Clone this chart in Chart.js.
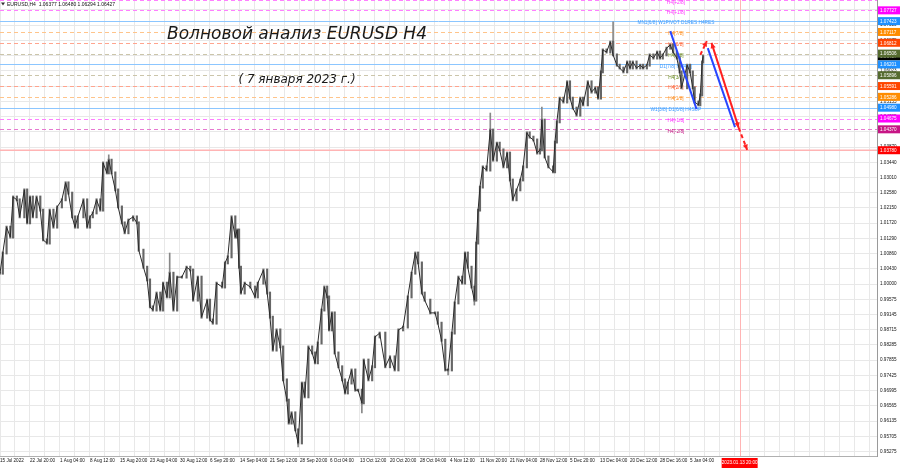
<!DOCTYPE html>
<html>
<head>
<meta charset="utf-8">
<script src="https://cdn.jsdelivr.net/npm/chart.js@4.4.0/dist/chart.umd.min.js"></script>
<style>
    html, body { margin: 0; padding: 0; background: #fff; }
    #wrap { width: 900px; height: 468px; }
</style>
</head>
<body>
<div id="wrap"><canvas id="canvas" width="900" height="468"></canvas></div>
<script>
// H4 bar number (from 15 Jul 2022) and close price
var barIdx = [
    0, 3, 7, 11, 14, 18, 21, 26, 29, 32,
    35, 39, 43, 46, 50, 53, 57, 61, 66, 70,
    73, 77, 80, 83, 89, 93, 96, 99, 103, 107,
    110, 114, 116, 119, 123, 126, 130, 133, 137, 142,
    146, 148, 153, 157, 160, 163, 167, 171, 174, 178,
    181, 185, 189, 194, 199, 203, 206, 211, 215, 221,
    224, 227, 231, 237, 240, 243, 247, 251, 253, 255,
    257, 261, 267, 272, 275, 281, 285, 288, 291, 295,
    299, 302, 306, 308, 311, 315, 318, 322, 325, 329,
    333, 336, 339, 343, 346, 349, 351, 354, 357, 361,
    365, 368, 371, 375, 379, 382, 386, 388, 393, 397,
    400, 405, 411, 416, 421, 425, 430, 435, 439, 443,
    446, 450, 453, 459, 464, 467, 471, 475, 478, 482,
    485, 489, 493, 496, 499, 503, 506, 508, 510, 512,
    515, 519, 523, 526, 530, 533, 537, 541, 544, 547,
    551, 555, 558, 562, 565, 569, 573, 576, 578, 581,
    585, 590, 592, 594, 597, 601, 605, 608, 611, 615,
    619, 622, 627, 631, 635, 638, 641, 643, 647, 651,
    654, 658, 661, 665, 669, 672, 675, 679, 683, 686,
    690, 693, 697, 701, 704, 707, 711, 715, 718, 722,
    725, 727, 733, 736, 739, 741, 745, 747, 749, 750
];
var closes = [
    1.0031, 1.0088, 1.0161, 1.0133, 1.0246, 1.0238, 1.0190, 1.0266, 1.0173, 1.0246,
    1.0190, 1.0246, 1.0209, 1.0125, 1.0116, 1.0209, 1.0161, 1.0218, 1.0238, 1.0286,
    1.0257, 1.0190, 1.0161, 1.0190, 1.0238, 1.0161, 1.0190, 1.0201, 1.0238, 1.0209,
    1.0342, 1.0314, 1.0350, 1.0314, 1.0266, 1.0218, 1.0173, 1.0145, 1.0181, 1.0190,
    1.0173, 1.0096, 1.0048, 1.0012, 0.9936, 0.9927, 0.9975, 0.9927, 1.0003, 0.9964,
    1.0031, 0.9927, 1.0020, 1.0020, 1.0048, 1.0040, 0.9955, 1.0020, 0.9907, 0.9955,
    0.9899, 0.9890, 1.0003, 0.9992, 1.0060, 1.0077, 1.0190, 1.0133, 1.0153, 1.0048,
    0.9975, 1.0003, 0.9992, 0.9964, 1.0003, 1.0040, 0.9975, 0.9907, 0.9814, 0.9871,
    0.9823, 0.9730, 0.9673, 0.9608, 0.9637, 0.9589, 0.9552, 0.9721, 0.9682, 0.9823,
    0.9806, 0.9778, 0.9834, 0.9927, 0.9992, 0.9964, 0.9871, 0.9919, 0.9806, 0.9767,
    0.9730, 0.9693, 0.9721, 0.9758, 0.9701, 0.9701, 0.9665, 0.9786, 0.9730, 0.9767,
    0.9851, 0.9862, 0.9767, 0.9795, 0.9758, 0.9871, 0.9879, 0.9964, 1.0031, 1.0088,
    1.0060, 0.9975, 0.9955, 0.9919, 0.9919, 0.9890, 0.9842, 0.9758, 0.9758, 0.9862,
    0.9947, 1.0020, 1.0003, 1.0088, 1.0048, 0.9992, 0.9955, 1.0116, 1.0209, 1.0274,
    1.0331, 1.0322, 1.0435, 1.0350, 1.0398, 1.0379, 1.0331, 1.0370, 1.0294, 1.0238,
    1.0266, 1.0294, 1.0331, 1.0427, 1.0415, 1.0407, 1.0370, 1.0379, 1.0463, 1.0359,
    1.0331, 1.0317, 1.0401, 1.0458, 1.0525, 1.0514, 1.0571, 1.0525, 1.0497, 1.0477,
    1.0525, 1.0506, 1.0571, 1.0542, 1.0554, 1.0525, 1.0599, 1.0661, 1.0655, 1.0683,
    1.0647, 1.0618, 1.0610, 1.0599, 1.0627, 1.0610, 1.0627, 1.0610, 1.0618, 1.0610,
    1.0618, 1.0647, 1.0638, 1.0655, 1.0638, 1.0647, 1.0666, 1.0675, 1.0655, 1.0638,
    1.0599, 1.0554, 1.0618, 1.0599, 1.0554, 1.0514, 1.0506, 1.0534, 1.0627, 1.0643
];
// long wicks
var wickHighBars = [116, 181, 523, 578, 654];
var wickHighs = [1.0365, 1.0088, 1.0483, 1.0500, 1.0740];
var wickLowBars = [318, 386, 478, 506];
var wickLows = [0.9541, 0.9637, 0.9744, 0.9941];

// hand drawn forecast lines [bar, price]
var blueLine1 = [[715, 1.0714], [743, 1.0494]];
var blueLine2 = [[755, 1.0666], [784, 1.0443]];
var redLine = [[759, 1.0681], [788, 1.0441]];
var redDashUp = [[747, 1.0647], [754, 1.0686]];
var redDashDown = [[788, 1.0441], [797, 1.0379]];

// murrey levels
var levelPrices = [1.08032, 1.07727, 1.07423, 1.07117, 1.06812, 1.06506, 1.06201, 1.05896, 1.05591, 1.05286, 1.04980, 1.04675, 1.04370];
var levelNames = ['H4[+2/8]', 'H4[+1/8]', 'MN1[6/8] W1PIVOT D1RES H4RES', 'H4[7/8]', 'H4[6/8]', 'H4[5/8]', 'D1[7/8] H4[4/8]',
    'H4[3/8]', 'H4[2/8]', 'H4[1/8]', 'W1[3/8] D1[6/8] H4SUP', 'H4[-1/8]', 'H4[-2/8]'];
var redLevel = 1.03780;
var lastPrice = 1.06427;
var markerBar = 789;
var markerLabel = '2023.01.13 20:00';

var priceTicks = [0.95275, 0.95705, 0.96135, 0.96565, 0.96995, 0.97425, 0.97855, 0.98285, 0.98715, 0.99145,
    0.99575, 1.00000, 1.00430, 1.00860, 1.01290, 1.01720, 1.02150, 1.02580, 1.03010, 1.03440,
    1.03870, 1.04300, 1.04735, 1.05155, 1.05590, 1.06023, 1.06450, 1.06875, 1.07310, 1.07740];
var timeLabels = ['15 Jul 2022', '22 Jul 20:00', '1 Aug 04:00', '8 Aug 12:00', '15 Aug 20:00', '23 Aug 04:00',
    '30 Aug 12:00', '6 Sep 20:00', '14 Sep 04:00', '21 Sep 12:00', '28 Sep 20:00', '6 Oct 04:00',
    '13 Oct 12:00', '20 Oct 20:00', '28 Oct 04:00', '4 Nov 12:00', '11 Nov 20:00', '21 Nov 04:00',
    '28 Nov 12:00', '5 Dec 20:00', '13 Dec 04:00', '20 Dec 12:00', '28 Dec 16:00', '5 Jan 04:00'];
var header = 'EURUSD,H4  1.06377 1.06480 1.06294 1.06427';
var title = 'Волновой анализ EURUSD H4';
var subtitle = '( 7 января 2023 г.)';

// styles
var lineColors = ['#ff80ff', '#ff80ff', '#8cc6ff', '#ffc48a', '#ffa48e', '#cbc5aa', '#8cc6ff', '#cbc5aa', '#ffa48e', '#ffc48a', '#8cc6ff', '#ff80ff', '#e67ad0'];
var lineDashed = [1, 1, 0, 1, 1, 1, 0, 1, 1, 1, 0, 1, 1];
var textColors = ['#ff33ff', '#ff33ff', '#3d9bff', '#ff8c1a', '#ff5a2a', '#6b8e23', '#3d9bff', '#6b8e23', '#ff5a2a', '#ff8c1a', '#3d9bff', '#ff33ff', '#c71585'];
var boxColors = ['#ff00ff', '#ff00ff', '#1e90ff', '#ff8c00', '#ff4500', '#556b2f', '#1e90ff', '#556b2f', '#ff4500', '#ff8c00', '#1e90ff', '#ff00ff', '#c71585'];
var labelBar = 721;
var FONT = '"Liberation Sans", Arial, sans-serif';
var wick = 0.0003;

var candleRanges = barIdx.map(function (b, i) {
    var prev = i > 0 ? closes[i - 1] : closes[i];
    return { x: b, y: [Math.min(prev, closes[i]) - wick, Math.max(prev, closes[i]) + wick] };
});
var closePoints = barIdx.map(function (b, i) { return { x: b, y: closes[i] }; });
var highWicks = wickHighBars.map(function (b, i) {
    return { x: b, y: [closes[barIdx.indexOf(b)], wickHighs[i]] };
});
var lowWicks = wickLowBars.map(function (b, i) {
    return { x: b, y: [wickLows[i], closes[barIdx.indexOf(b)]] };
});
function pts(arr) { return arr.map(function (p) { return { x: p[0], y: p[1] }; }); }

var gridBars = [];
for (var g = 0; g <= 928; g += 16) gridBars.push(g);

function arrowHead(ctx, x1, y1, x2, y2, color) {
    var ang = Math.atan2(y2 - y1, x2 - x1), L = 6, W = 0.45;
    ctx.fillStyle = color;
    ctx.beginPath();
    ctx.moveTo(x2, y2);
    ctx.lineTo(x2 - L * Math.cos(ang - W), y2 - L * Math.sin(ang - W));
    ctx.lineTo(x2 - L * Math.cos(ang + W), y2 - L * Math.sin(ang + W));
    ctx.closePath();
    ctx.fill();
}

function priceBox(ctx, area, py, text, color) {
    ctx.fillStyle = color;
    ctx.fillRect(area.right + 1, py - 4, 900 - area.right - 1, 8);
    ctx.fillStyle = '#fff';
    ctx.textAlign = 'left';
    ctx.textBaseline = 'middle';
    ctx.fillText(text, area.right + 3, py + 0.5);
}

var overlay = {
    id: 'overlay',
    beforeDatasetsDraw: function (chart) {
        var ctx = chart.ctx, a = chart.chartArea, x = chart.scales.x, y = chart.scales.y;
        ctx.save();
        ctx.beginPath();
        ctx.rect(a.left, a.top, a.right - a.left, a.bottom - a.top);
        ctx.clip();
        ctx.lineWidth = 1;
        levelPrices.forEach(function (p, i) {
            var py = Math.round(y.getPixelForValue(p)) + 0.5;
            ctx.strokeStyle = lineColors[i];
            ctx.setLineDash(lineDashed[i] ? [4, 3] : []);
            ctx.beginPath(); ctx.moveTo(a.left, py); ctx.lineTo(a.right, py); ctx.stroke();
        });
        ctx.setLineDash([]);
        ctx.strokeStyle = '#ffb4b4';
        ctx.lineWidth = 1.5;
        var ry = y.getPixelForValue(redLevel);
        ctx.beginPath(); ctx.moveTo(a.left, ry); ctx.lineTo(a.right, ry); ctx.stroke();
        var mx = Math.round(x.getPixelForValue(markerBar)) + 0.5;
        ctx.lineWidth = 1;
        ctx.beginPath(); ctx.moveTo(mx, a.top); ctx.lineTo(mx, a.bottom); ctx.stroke();
        ctx.restore();

        // level names
        ctx.save();
        ctx.font = '4.8px ' + FONT;
        ctx.textAlign = 'center';
        ctx.textBaseline = 'middle';
        var lx = x.getPixelForValue(labelBar);
        levelPrices.forEach(function (p, i) {
            ctx.fillStyle = textColors[i];
            ctx.fillText(levelNames[i], lx, Math.max(2.5, y.getPixelForValue(p) + 2));
        });
        ctx.restore();
    },
    afterDatasetsDraw: function (chart) {
        var ctx = chart.ctx;
        ctx.save();
        var ds = chart.data.datasets;
        for (var k = 0; k < ds.length; k++) {
            if (!ds[k].heads) continue;
            var el = chart.getDatasetMeta(k).data;
            ds[k].heads.forEach(function (h) {
                var a = el[h[0]], b = el[h[1]];
                arrowHead(ctx, a.x, a.y, b.x, b.y, ds[k].borderColor);
            });
        }
        ctx.restore();
    },
    afterDraw: function (chart) {
        var ctx = chart.ctx, a = chart.chartArea, x = chart.scales.x, y = chart.scales.y;
        ctx.save();
        ctx.font = '4.6px ' + FONT;
        // current price then level boxes
        priceBox(ctx, a, y.getPixelForValue(lastPrice), lastPrice.toFixed(5), '#000');
        levelPrices.forEach(function (p, i) {
            var py = y.getPixelForValue(p);
            if (py < 3) return;
            priceBox(ctx, a, py, p.toFixed(5), boxColors[i]);
        });
        priceBox(ctx, a, y.getPixelForValue(redLevel), redLevel.toFixed(5), '#ff0000');

        // marker time box
        var mx = x.getPixelForValue(markerBar);
        ctx.fillStyle = '#ff0000';
        ctx.fillRect(mx - 18, a.bottom + 2, 36, 10);
        ctx.fillStyle = '#fff';
        ctx.textAlign = 'center';
        ctx.textBaseline = 'middle';
        ctx.fillText(markerLabel, mx, a.bottom + 7);

        // header
        ctx.fillStyle = '#333';
        ctx.beginPath();
        ctx.moveTo(1, 2.5); ctx.lineTo(5, 2.5); ctx.lineTo(3, 5.5); ctx.closePath(); ctx.fill();
        ctx.fillStyle = '#111';
        ctx.font = '5px ' + FONT;
        ctx.textAlign = 'left';
        ctx.fillText(header, 7, 4.5);

        // title
        ctx.fillStyle = '#1a1a1a';
        ctx.textAlign = 'center';
        ctx.font = 'italic 17px "DejaVu Sans", sans-serif';
        ctx.fillText(title, 297, 35);
        ctx.font = 'italic 12px "DejaVu Sans", sans-serif';
        ctx.fillText(subtitle, 297, 80);
        ctx.restore();
    }
};

var ctx = document.getElementById('canvas');
var myChart = new Chart(ctx, {
    type: 'line',
    data: {
        datasets: [
            { type: 'bar', data: candleRanges, backgroundColor: '#666', barThickness: 1.5, grouped: false, order: 3 },
            { type: 'bar', data: highWicks, backgroundColor: '#888', barThickness: 1, grouped: false, order: 3 },
            { type: 'bar', data: lowWicks, backgroundColor: '#888', barThickness: 1, grouped: false, order: 3 },
            { data: closePoints, borderColor: '#2a2a2a', borderWidth: 1, pointRadius: 0, tension: 0, order: 2 },
            { data: pts(blueLine1), borderColor: '#2846ff', borderWidth: 2, pointRadius: 0, order: 1 },
            { data: pts(blueLine2), borderColor: '#2846ff', borderWidth: 2, pointRadius: 0, order: 1 },
            { data: pts(redLine), borderColor: '#ff2020', borderWidth: 2, pointRadius: 0, order: 1, heads: [[1, 0], [0, 1]] },
            { data: pts(redDashUp), borderColor: '#ff2020', borderWidth: 2, borderDash: [4, 3], pointRadius: 0, order: 1, heads: [[0, 1]] },
            { data: pts(redDashDown), borderColor: '#ff2020', borderWidth: 2, borderDash: [4, 3], pointRadius: 0, order: 1, heads: [[0, 1]] }
        ]
    },
    options: {
        responsive: false,
        animation: false,
        devicePixelRatio: 1,
        layout: { padding: 0, autoPadding: false },
        plugins: { legend: { display: false }, tooltip: { enabled: false } },
        scales: {
            x: {
                type: 'linear', min: 0, max: 935.5, offset: false,
                afterBuildTicks: function (s) { s.ticks = gridBars.map(function (v) { return { value: v }; }); },
                afterFit: function (s) { s.height = 12; s.paddingLeft = 0; s.paddingRight = 0; },
                ticks: {
                    autoSkip: false, maxRotation: 0, minRotation: 0, align: 'start', padding: 2,
                    font: { size: 4.6, family: FONT }, color: '#111',
                    callback: function (v) { return (v % 32 === 0 && timeLabels[v / 32]) ? timeLabels[v / 32] : ''; }
                },
                grid: { color: '#e8e8e8', drawTicks: false, offset: false },
                border: { color: '#b0b0b0' }
            },
            y: {
                type: 'linear', position: 'right', min: 0.95152, max: 1.08019,
                afterBuildTicks: function (s) { s.ticks = priceTicks.map(function (v) { return { value: v }; }); },
                afterFit: function (s) { s.width = 23; s.paddingTop = 0; s.paddingBottom = 0; },
                ticks: {
                    autoSkip: false, padding: 3,
                    font: { size: 4.6, family: FONT }, color: '#111',
                    callback: function (v, i) { return priceTicks[i].toFixed(5); }
                },
                grid: { color: '#e8e8e8', drawTicks: false },
                border: { color: '#9a9a9a' }
            }
        }
    },
    plugins: [overlay]
});
</script>
</body>
</html>
